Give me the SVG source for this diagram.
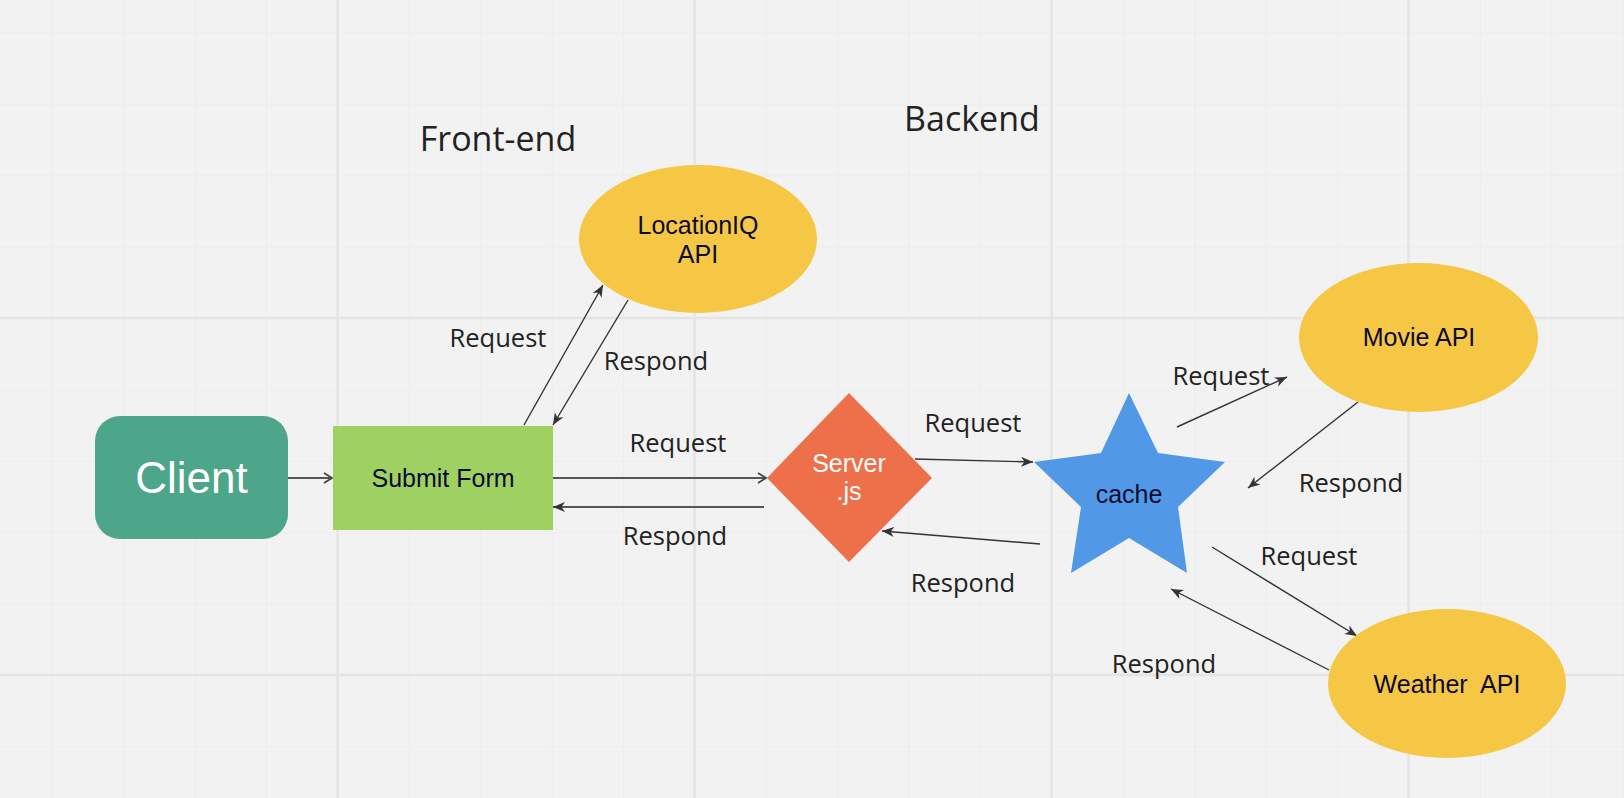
<svg xmlns="http://www.w3.org/2000/svg" width="1624" height="798" viewBox="0 0 1624 798">
  <defs>
    <style>
      .lbl { font-family: "Open Sans", "Noto Sans", sans-serif; font-size: 25.5px; fill: #222222; text-anchor: middle; }
      .title { font-family: "Open Sans", "Noto Sans", sans-serif; font-size: 34px; fill: #222222; text-anchor: middle; }
      .nt { font-family: "Liberation Sans", Arial, sans-serif; font-size: 25px; fill: #0b0b35; text-anchor: middle; }
      .wt { font-family: "Liberation Sans", Arial, sans-serif; fill: #ffffff; text-anchor: middle; }
      .edge { stroke: #333333; stroke-width: 1.4; fill: none; }
      .edge2 { stroke: #555555; stroke-width: 2; fill: none; }
      .minor { stroke: #ebebeb; stroke-width: 1.5; }
      .major { stroke: #e4e4e4; stroke-width: 2.5; }
    </style>
    <marker id="fill" markerUnits="userSpaceOnUse" markerWidth="14" markerHeight="12" refX="12" refY="5" orient="auto" viewBox="0 0 14 10">
      <path d="M0,0 L12,5 L0,10 L3.5,5 Z" fill="#333333"/>
    </marker>
    <marker id="open" markerUnits="userSpaceOnUse" markerWidth="12" markerHeight="14" refX="10" refY="6" orient="auto" viewBox="0 0 12 12">
      <path d="M2,1 L10,6 L2,11" fill="none" stroke="#444444" stroke-width="1.8"/>
    </marker>
    <pattern id="grid" patternUnits="userSpaceOnUse" x="-19.5" y="32.4" width="71.4" height="71.4">
      <line x1="0" y1="0" x2="0" y2="71.4" class="minor"/>
      <line x1="0" y1="0" x2="71.4" y2="0" class="minor"/>
    </pattern>
  </defs>

  <g id="background">
    <rect x="0" y="0" width="1624" height="798" fill="#f2f2f2"/>
    <rect x="0" y="0" width="1624" height="798" fill="url(#grid)"/>
    <line x1="337.5" y1="0" x2="337.5" y2="798" class="major"/>
    <line x1="694.5" y1="0" x2="694.5" y2="798" class="major"/>
    <line x1="1051.5" y1="0" x2="1051.5" y2="798" class="major"/>
    <line x1="1408.5" y1="0" x2="1408.5" y2="798" class="major"/>
    <line x1="0" y1="318" x2="1624" y2="318" class="major"/>
    <line x1="0" y1="675" x2="1624" y2="675" class="major"/>
  </g>

  <g id="titles">
    <text class="title" x="498" y="151">Front-end</text>
    <text class="title" x="972" y="131">Backend</text>
  </g>

  <g id="connectors">
    <line class="edge2" x1="288" y1="478" x2="332" y2="478" marker-end="url(#open)"/>
    <line class="edge" x1="524" y1="425" x2="603" y2="285" marker-end="url(#fill)"/>
    <line class="edge" x1="628" y1="300" x2="553" y2="425" marker-end="url(#fill)"/>
    <line class="edge2" x1="553" y1="478" x2="766" y2="478" marker-end="url(#open)"/>
    <line class="edge2" x1="764" y1="507" x2="553" y2="507" marker-end="url(#fill)"/>
    <line class="edge" x1="915" y1="459" x2="1033" y2="462" marker-end="url(#fill)"/>
    <line class="edge" x1="1040" y1="544" x2="882" y2="531" marker-end="url(#fill)"/>
    <line class="edge" x1="1177" y1="427" x2="1287" y2="377" marker-end="url(#fill)"/>
    <line class="edge" x1="1358" y1="402" x2="1248" y2="488" marker-end="url(#fill)"/>
    <line class="edge" x1="1212" y1="547" x2="1357" y2="636" marker-end="url(#fill)"/>
    <line class="edge" x1="1329" y1="670" x2="1171" y2="589" marker-end="url(#fill)"/>
  </g>

  <g id="labels">
    <text class="lbl" x="498" y="347">Request</text>
    <text class="lbl" x="656" y="370">Respond</text>
    <text class="lbl" x="678" y="452">Request</text>
    <text class="lbl" x="675" y="545">Respond</text>
    <text class="lbl" x="973" y="432">Request</text>
    <text class="lbl" x="963" y="592">Respond</text>
    <text class="lbl" x="1221" y="385">Request</text>
    <text class="lbl" x="1351" y="492">Respond</text>
    <text class="lbl" x="1309" y="565">Request</text>
    <text class="lbl" x="1164" y="673">Respond</text>
  </g>

  <g id="client">
    <rect x="95" y="416" width="193" height="123" rx="25" ry="25" fill="#4da58a"/>
    <text class="wt" x="191.5" y="493" font-size="44">Client</text>
  </g>

  <g id="submit-form">
    <rect x="333" y="426" width="220" height="104" fill="#9ed062"/>
    <text class="nt" x="443" y="487">Submit Form</text>
  </g>

  <g id="locationiq-api">
    <ellipse cx="698" cy="239" rx="119" ry="74" fill="#f6c744"/>
    <text class="nt" x="698" y="234">LocationIQ</text>
    <text class="nt" x="698" y="263">API</text>
  </g>

  <g id="server">
    <polygon points="849,393 932,478 849,562 767,478" fill="#ee704b"/>
    <text class="wt" x="849" y="472" font-size="25">Server</text>
    <text class="wt" x="849" y="500" font-size="25">.js</text>
  </g>

  <g id="cache">
    <polygon points="1129,393 1158,453 1225,462 1178,507 1187,573 1129,538 1071,573 1081,507 1034,462 1101,453" fill="#5199e6"/>
    <text class="nt" x="1129" y="503">cache</text>
  </g>

  <g id="movie-api">
    <ellipse cx="1418.5" cy="337.5" rx="119.5" ry="74.5" fill="#f6c744"/>
    <text class="nt" x="1419" y="346">Movie API</text>
  </g>

  <g id="weather-api">
    <ellipse cx="1447" cy="683.5" rx="119" ry="74.5" fill="#f6c744"/>
    <text class="nt" x="1447" y="693" xml:space="preserve" style="white-space: pre">Weather  API</text>
  </g>
</svg>
